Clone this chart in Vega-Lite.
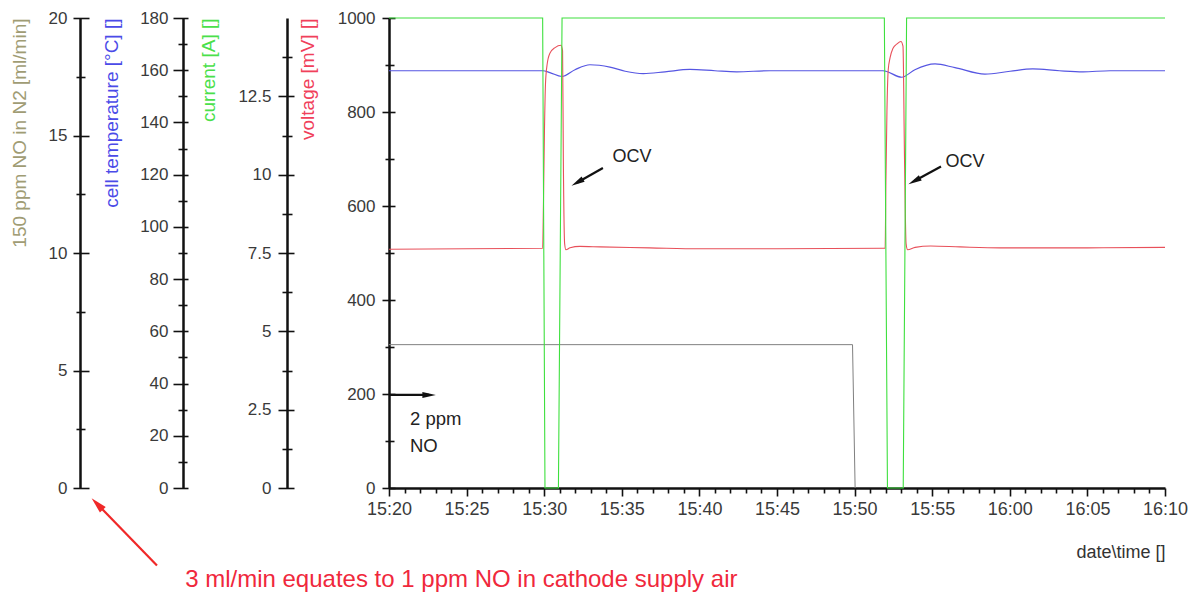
{
  "$schema": "https://vega.github.io/schema/vega-lite/v6.json",
  "width": 776,
  "height": 470,
  "autosize": "none",
  "padding": {"left": 389, "top": 18, "right": 32, "bottom": 113},
  "background": "white",
  "config": {
    "view": {"stroke": null},
    "axis": {
      "grid": false,
      "labelFont": "Liberation Sans",
      "titleFont": "Liberation Sans",
      "labelFontSize": 17,
      "titleFontSize": 19,
      "titleFontWeight": "normal",
      "labelColor": "#3a3a3a",
      "domainColor": "#111111",
      "tickColor": "#111111",
      "domainWidth": 2.5,
      "tickWidth": 1.6
    },
    "text": {"font": "Liberation Sans"}
  },
  "datasets": {
    "voltage": [
      {"t": "2012-06-01T15:20:00", "mV": 508},
      {"t": "2012-06-01T15:25:00", "mV": 509},
      {"t": "2012-06-01T15:29:54", "mV": 510},
      {"t": "2012-06-01T15:29:57", "mV": 600},
      {"t": "2012-06-01T15:30:01", "mV": 760},
      {"t": "2012-06-01T15:30:05", "mV": 860},
      {"t": "2012-06-01T15:30:11", "mV": 900},
      {"t": "2012-06-01T15:30:22", "mV": 925},
      {"t": "2012-06-01T15:30:42", "mV": 937},
      {"t": "2012-06-01T15:31:05", "mV": 942},
      {"t": "2012-06-01T15:31:11", "mV": 930},
      {"t": "2012-06-01T15:31:14", "mV": 700},
      {"t": "2012-06-01T15:31:19", "mV": 520},
      {"t": "2012-06-01T15:31:24", "mV": 507},
      {"t": "2012-06-01T15:31:40", "mV": 511},
      {"t": "2012-06-01T15:32:18", "mV": 514},
      {"t": "2012-06-01T15:33:36", "mV": 513},
      {"t": "2012-06-01T15:36:48", "mV": 511},
      {"t": "2012-06-01T15:40:00", "mV": 509},
      {"t": "2012-06-01T15:45:00", "mV": 509},
      {"t": "2012-06-01T15:51:54", "mV": 510},
      {"t": "2012-06-01T15:51:58", "mV": 510},
      {"t": "2012-06-01T15:52:01", "mV": 650},
      {"t": "2012-06-01T15:52:05", "mV": 800},
      {"t": "2012-06-01T15:52:10", "mV": 890},
      {"t": "2012-06-01T15:52:17", "mV": 915},
      {"t": "2012-06-01T15:52:28", "mV": 935},
      {"t": "2012-06-01T15:52:44", "mV": 945},
      {"t": "2012-06-01T15:52:59", "mV": 950},
      {"t": "2012-06-01T15:53:07", "mV": 940},
      {"t": "2012-06-01T15:53:13", "mV": 700},
      {"t": "2012-06-01T15:53:19", "mV": 520},
      {"t": "2012-06-01T15:53:25", "mV": 507},
      {"t": "2012-06-01T15:53:54", "mV": 512},
      {"t": "2012-06-01T15:54:54", "mV": 515},
      {"t": "2012-06-01T15:56:48", "mV": 513},
      {"t": "2012-06-01T15:59:24", "mV": 511},
      {"t": "2012-06-01T16:05:00", "mV": 511},
      {"t": "2012-06-01T16:10:00", "mV": 512}
    ],
    "current": [
      {"t": "2012-06-01T15:20:00", "A": 15},
      {"t": "2012-06-01T15:29:54", "A": 15},
      {"t": "2012-06-01T15:30:03", "A": 0},
      {"t": "2012-06-01T15:30:55", "A": 0},
      {"t": "2012-06-01T15:31:09", "A": 15},
      {"t": "2012-06-01T15:51:55", "A": 15},
      {"t": "2012-06-01T15:52:07", "A": 0},
      {"t": "2012-06-01T15:53:08", "A": 0},
      {"t": "2012-06-01T15:53:21", "A": 15},
      {"t": "2012-06-01T16:10:00", "A": 15}
    ],
    "temperature": [
      {"t": "2012-06-01T15:20:00", "degC": 159.8},
      {"t": "2012-06-01T15:29:55", "degC": 159.8},
      {"t": "2012-06-01T15:30:22", "degC": 159.1},
      {"t": "2012-06-01T15:31:08", "degC": 157.6},
      {"t": "2012-06-01T15:31:59", "degC": 160.2},
      {"t": "2012-06-01T15:32:57", "degC": 162.1},
      {"t": "2012-06-01T15:34:14", "degC": 161.2},
      {"t": "2012-06-01T15:35:13", "degC": 159.6},
      {"t": "2012-06-01T15:36:23", "degC": 158.7},
      {"t": "2012-06-01T15:37:47", "degC": 159.4},
      {"t": "2012-06-01T15:39:23", "degC": 160.3},
      {"t": "2012-06-01T15:41:00", "degC": 159.8},
      {"t": "2012-06-01T15:42:24", "degC": 159.4},
      {"t": "2012-06-01T15:44:33", "degC": 159.8},
      {"t": "2012-06-01T15:51:50", "degC": 159.8},
      {"t": "2012-06-01T15:52:01", "degC": 159.6},
      {"t": "2012-06-01T15:53:02", "degC": 157.3},
      {"t": "2012-06-01T15:53:53", "degC": 160.2},
      {"t": "2012-06-01T15:55:11", "degC": 162.4},
      {"t": "2012-06-01T15:56:28", "degC": 161.0},
      {"t": "2012-06-01T15:58:24", "degC": 158.5},
      {"t": "2012-06-01T16:00:01", "degC": 159.6},
      {"t": "2012-06-01T16:01:29", "degC": 160.5},
      {"t": "2012-06-01T16:03:12", "degC": 159.8},
      {"t": "2012-06-01T16:04:43", "degC": 159.4},
      {"t": "2012-06-01T16:06:28", "degC": 159.8},
      {"t": "2012-06-01T16:10:00", "degC": 159.8}
    ],
    "noflow": [
      {"t": "2012-06-01T15:20:00", "mlmin": 6.1},
      {"t": "2012-06-01T15:49:52", "mlmin": 6.1},
      {"t": "2012-06-01T15:50:02", "mlmin": 0}
    ],
    "notes": [
      {"t": "2012-06-01T15:35:39", "mV": 705, "label": "OCV"},
      {"t": "2012-06-01T15:57:07", "mV": 694, "label": "OCV"}
    ],
    "nonote": [
      {"t": "2012-06-01T15:21:21", "mV": 147, "label": "2 ppm"},
      {"t": "2012-06-01T15:21:21", "mV": 90, "label": "NO"}
    ],
    "remark": [
      {"t": "2012-06-01T15:06:52", "mV": -195, "label": "3 ml/min equates to 1 ppm NO in cathode supply air"}
    ],
    "arrows": [
      {"arrow": "ocv1", "t": "2012-06-01T15:33:47", "mV": 681},
      {"arrow": "ocv1", "t": "2012-06-01T15:32:08", "mV": 650},
      {"arrow": "ocv2", "t": "2012-06-01T15:55:34", "mV": 684},
      {"arrow": "ocv2", "t": "2012-06-01T15:53:51", "mV": 653},
      {"arrow": "no", "t": "2012-06-01T15:20:00", "mV": 198},
      {"arrow": "no", "t": "2012-06-01T15:22:35", "mV": 198}
    ],
    "heads": [
      {"t": "2012-06-01T15:32:08", "mV": 650, "angle": 150},
      {"t": "2012-06-01T15:53:51", "mV": 653, "angle": 152},
      {"t": "2012-06-01T15:22:35", "mV": 198, "angle": 0}
    ],
    "redarrow": [
      {"t": "2012-06-01T15:05:03", "mV": -165},
      {"t": "2012-06-01T15:01:12", "mV": -34}
    ],
    "redhead": [
      {"t": "2012-06-01T15:01:12", "mV": -34, "angle": 226}
    ]
  },
  "encoding": {
    "x": {
      "field": "t", "type": "temporal",
      "scale": {"domain": [{"year": 2012, "month": 6, "date": 1, "hours": 15, "minutes": 20}, {"year": 2012, "month": 6, "date": 1, "hours": 16, "minutes": 10}], "nice": false},
      "axis": {
        "orient": "bottom",
        "values": [
          {"year": 2012, "month": 6, "date": 1, "hours": 15, "minutes": 20},
          {"year": 2012, "month": 6, "date": 1, "hours": 15, "minutes": 21},
          {"year": 2012, "month": 6, "date": 1, "hours": 15, "minutes": 22},
          {"year": 2012, "month": 6, "date": 1, "hours": 15, "minutes": 23},
          {"year": 2012, "month": 6, "date": 1, "hours": 15, "minutes": 24},
          {"year": 2012, "month": 6, "date": 1, "hours": 15, "minutes": 25},
          {"year": 2012, "month": 6, "date": 1, "hours": 15, "minutes": 26},
          {"year": 2012, "month": 6, "date": 1, "hours": 15, "minutes": 27},
          {"year": 2012, "month": 6, "date": 1, "hours": 15, "minutes": 28},
          {"year": 2012, "month": 6, "date": 1, "hours": 15, "minutes": 29},
          {"year": 2012, "month": 6, "date": 1, "hours": 15, "minutes": 30},
          {"year": 2012, "month": 6, "date": 1, "hours": 15, "minutes": 31},
          {"year": 2012, "month": 6, "date": 1, "hours": 15, "minutes": 32},
          {"year": 2012, "month": 6, "date": 1, "hours": 15, "minutes": 33},
          {"year": 2012, "month": 6, "date": 1, "hours": 15, "minutes": 34},
          {"year": 2012, "month": 6, "date": 1, "hours": 15, "minutes": 35},
          {"year": 2012, "month": 6, "date": 1, "hours": 15, "minutes": 36},
          {"year": 2012, "month": 6, "date": 1, "hours": 15, "minutes": 37},
          {"year": 2012, "month": 6, "date": 1, "hours": 15, "minutes": 38},
          {"year": 2012, "month": 6, "date": 1, "hours": 15, "minutes": 39},
          {"year": 2012, "month": 6, "date": 1, "hours": 15, "minutes": 40},
          {"year": 2012, "month": 6, "date": 1, "hours": 15, "minutes": 41},
          {"year": 2012, "month": 6, "date": 1, "hours": 15, "minutes": 42},
          {"year": 2012, "month": 6, "date": 1, "hours": 15, "minutes": 43},
          {"year": 2012, "month": 6, "date": 1, "hours": 15, "minutes": 44},
          {"year": 2012, "month": 6, "date": 1, "hours": 15, "minutes": 45},
          {"year": 2012, "month": 6, "date": 1, "hours": 15, "minutes": 46},
          {"year": 2012, "month": 6, "date": 1, "hours": 15, "minutes": 47},
          {"year": 2012, "month": 6, "date": 1, "hours": 15, "minutes": 48},
          {"year": 2012, "month": 6, "date": 1, "hours": 15, "minutes": 49},
          {"year": 2012, "month": 6, "date": 1, "hours": 15, "minutes": 50},
          {"year": 2012, "month": 6, "date": 1, "hours": 15, "minutes": 51},
          {"year": 2012, "month": 6, "date": 1, "hours": 15, "minutes": 52},
          {"year": 2012, "month": 6, "date": 1, "hours": 15, "minutes": 53},
          {"year": 2012, "month": 6, "date": 1, "hours": 15, "minutes": 54},
          {"year": 2012, "month": 6, "date": 1, "hours": 15, "minutes": 55},
          {"year": 2012, "month": 6, "date": 1, "hours": 15, "minutes": 56},
          {"year": 2012, "month": 6, "date": 1, "hours": 15, "minutes": 57},
          {"year": 2012, "month": 6, "date": 1, "hours": 15, "minutes": 58},
          {"year": 2012, "month": 6, "date": 1, "hours": 15, "minutes": 59},
          {"year": 2012, "month": 6, "date": 1, "hours": 16, "minutes": 0},
          {"year": 2012, "month": 6, "date": 1, "hours": 16, "minutes": 1},
          {"year": 2012, "month": 6, "date": 1, "hours": 16, "minutes": 2},
          {"year": 2012, "month": 6, "date": 1, "hours": 16, "minutes": 3},
          {"year": 2012, "month": 6, "date": 1, "hours": 16, "minutes": 4},
          {"year": 2012, "month": 6, "date": 1, "hours": 16, "minutes": 5},
          {"year": 2012, "month": 6, "date": 1, "hours": 16, "minutes": 6},
          {"year": 2012, "month": 6, "date": 1, "hours": 16, "minutes": 7},
          {"year": 2012, "month": 6, "date": 1, "hours": 16, "minutes": 8},
          {"year": 2012, "month": 6, "date": 1, "hours": 16, "minutes": 9},
          {"year": 2012, "month": 6, "date": 1, "hours": 16, "minutes": 10}
        ],
        "labelExpr": "minutes(datum.value) % 5 === 0 ? timeFormat(datum.value, '%H:%M') : ''",
        "tickSize": {"condition": {"test": "minutes(datum.value) % 5 === 0", "value": 8}, "value": 5},
        "labelOverlap": false, "labelFlush": false, "labelPadding": 4, "labelFontSize": 18,
        "title": "date\\time []", "titleColor": "#333333", "titleFontSize": 18, "titleAlign": "right", "titleBaseline": "middle", "titleX": 776, "titleY": 64
      }
    }
  },
  "resolve": {
    "scale": {"y": "independent"},
    "axis": {"y": "independent"}
  },
  "layer": [
    {
      "data": {"name": "noflow"},
      "mark": {"type": "line", "color": "#808080", "strokeWidth": 1},
      "encoding": {
        "y": {"field": "mlmin", "type": "quantitative", "scale": {"domain": [0, 20], "nice": false},
          "axis": {"orient": "left", "offset": 309, "values": [0, 5, 10, 15, 20], "format": "d", "ticks": false, "labelPadding": 13,
            "title": "150 ppm NO in N2 [ml/min]", "titleColor": "#a09c74", "titleAngle": 270, "titleAlign": "right", "titleBaseline": "middle", "titleX": -61, "titleY": 0}}
      }
    },
    {
      "data": {"name": "noflow"},
      "mark": {"type": "point", "opacity": 0},
      "encoding": {
        "y": {"field": "mlmin", "type": "quantitative", "scale": {"domain": [0, 20], "nice": false},
          "axis": {"orient": "left", "offset": 300, "values": [0, 5, 10, 15, 20], "labels": false, "domain": false, "title": null, "tickSize": 16}}
      }
    },
    {
      "data": {"name": "noflow"},
      "mark": {"type": "point", "opacity": 0},
      "encoding": {
        "y": {"field": "mlmin", "type": "quantitative", "scale": {"domain": [0, 20], "nice": false},
          "axis": {"orient": "left", "offset": 304, "values": [2.5, 7.5, 12.5, 17.5], "labels": false, "domain": false, "title": null, "tickSize": 9}}
      }
    },
    {
      "data": {"name": "temperature"},
      "mark": {"type": "line", "color": "#5656e2", "strokeWidth": 1.2, "interpolate": "monotone"},
      "encoding": {
        "y": {"field": "degC", "type": "quantitative", "scale": {"domain": [0, 180], "nice": false},
          "axis": {"orient": "left", "offset": 206, "values": [0, 20, 40, 60, 80, 100, 120, 140, 160, 180], "format": "d", "ticks": false, "labelPadding": 15,
            "title": "cell temperature [°C] []", "titleColor": "#4b4be8", "titleAngle": 270, "titleAlign": "right", "titleBaseline": "middle", "titleX": -72, "titleY": 0}}
      }
    },
    {
      "data": {"name": "temperature"},
      "mark": {"type": "point", "opacity": 0},
      "encoding": {
        "y": {"field": "degC", "type": "quantitative", "scale": {"domain": [0, 180], "nice": false},
          "axis": {"orient": "left", "offset": 201, "values": [0, 20, 40, 60, 80, 100, 120, 140, 160, 180], "labels": false, "domain": false, "title": null, "tickSize": 15}}
      }
    },
    {
      "data": {"name": "temperature"},
      "mark": {"type": "point", "opacity": 0},
      "encoding": {
        "y": {"field": "degC", "type": "quantitative", "scale": {"domain": [0, 180], "nice": false},
          "axis": {"orient": "left", "offset": 202, "values": [10, 30, 50, 70, 90, 110, 130, 150, 170], "labels": false, "domain": false, "title": null, "tickSize": 9}}
      }
    },
    {
      "data": {"name": "current"},
      "mark": {"type": "point", "opacity": 0},
      "encoding": {
        "y": {"field": "A", "type": "quantitative", "scale": {"domain": [0, 15], "nice": false},
          "axis": {"orient": "left", "offset": 95, "values": [0, 2.5, 5, 7.5, 10, 12.5], "labels": false, "domain": false, "title": null, "tickSize": 16}}
      }
    },
    {
      "data": {"name": "current"},
      "mark": {"type": "point", "opacity": 0},
      "encoding": {
        "y": {"field": "A", "type": "quantitative", "scale": {"domain": [0, 15], "nice": false},
          "axis": {"orient": "left", "offset": 97, "values": [1.25, 3.75, 6.25, 8.75, 11.25, 13.75], "labels": false, "domain": false, "title": null, "tickSize": 10}}
      }
    },
    {
      "data": {"name": "voltage"},
      "mark": {"type": "line", "color": "#e8505a", "strokeWidth": 1.1, "interpolate": "monotone"},
      "encoding": {
        "y": {"field": "mV", "type": "quantitative", "scale": {"domain": [0, 1000], "nice": false},
          "axis": {"orient": "left", "offset": 0, "values": [0, 200, 400, 600, 800, 1000], "format": "d", "ticks": false, "labelPadding": 14,
            "title": "voltage [mV] []", "titleColor": "#f0405a", "titleAngle": 270, "titleAlign": "right", "titleBaseline": "middle", "titleX": -82, "titleY": 0}}
      }
    },
    {
      "data": {"name": "voltage"},
      "mark": {"type": "point", "opacity": 0},
      "encoding": {
        "y": {"field": "mV", "type": "quantitative", "scale": {"domain": [0, 1000], "nice": false},
          "axis": {"orient": "left", "offset": -6, "values": [0, 200, 400, 600, 800, 1000], "labels": false, "domain": false, "title": null, "tickSize": 13}}
      }
    },
    {
      "data": {"name": "voltage"},
      "mark": {"type": "point", "opacity": 0},
      "encoding": {
        "y": {"field": "mV", "type": "quantitative", "scale": {"domain": [0, 1000], "nice": false},
          "axis": {"orient": "left", "offset": -5, "values": [100, 300, 500, 700, 900], "labels": false, "domain": false, "title": null, "tickSize": 9}}
      }
    },
    {
      "data": {"name": "current"},
      "mark": {"type": "line", "color": "#3ee03e", "strokeWidth": 1.1},
      "encoding": {
        "y": {"field": "A", "type": "quantitative", "scale": {"domain": [0, 15], "nice": false},
          "axis": {"orient": "left", "offset": 102, "values": [0, 2.5, 5, 7.5, 10, 12.5], "format": ".1~f", "ticks": false, "labelPadding": 16,
            "title": "current [A] []", "titleColor": "#4ae04a", "titleAngle": 270, "titleAlign": "right", "titleBaseline": "middle", "titleX": -79, "titleY": 0}}
      }
    },
    {
      "data": {"name": "arrows"},
      "mark": {"type": "line", "color": "#111111", "strokeWidth": 2.2},
      "encoding": {
        "y": {"field": "mV", "type": "quantitative", "scale": {"domain": [0, 1000], "nice": false}, "axis": null},
        "detail": {"field": "arrow"}
      }
    },
    {
      "data": {"name": "heads"},
      "mark": {"type": "point", "shape": "M-1,-0.45L1,0L-1,0.45Z", "filled": true, "color": "#111111", "opacity": 1, "size": 180},
      "encoding": {
        "y": {"field": "mV", "type": "quantitative", "scale": {"domain": [0, 1000], "nice": false}, "axis": null},
        "angle": {"field": "angle", "type": "quantitative", "scale": null}
      }
    },
    {
      "data": {"name": "redarrow"},
      "mark": {"type": "line", "color": "#f02828", "strokeWidth": 2.2},
      "encoding": {
        "y": {"field": "mV", "type": "quantitative", "scale": {"domain": [0, 1000], "nice": false}, "axis": null}
      }
    },
    {
      "data": {"name": "redhead"},
      "mark": {"type": "point", "shape": "M-1,-0.5L1,0L-1,0.5Z", "filled": true, "color": "#f02828", "opacity": 1, "size": 260},
      "encoding": {
        "y": {"field": "mV", "type": "quantitative", "scale": {"domain": [0, 1000], "nice": false}, "axis": null},
        "angle": {"field": "angle", "type": "quantitative", "scale": null}
      }
    },
    {
      "data": {"name": "notes"},
      "mark": {"type": "text", "fontSize": 18, "color": "#222222", "align": "center", "baseline": "middle"},
      "encoding": {
        "y": {"field": "mV", "type": "quantitative", "scale": {"domain": [0, 1000], "nice": false}, "axis": null},
        "text": {"field": "label"}
      }
    },
    {
      "data": {"name": "nonote"},
      "mark": {"type": "text", "fontSize": 18.5, "color": "#222222", "align": "left", "baseline": "middle"},
      "encoding": {
        "y": {"field": "mV", "type": "quantitative", "scale": {"domain": [0, 1000], "nice": false}, "axis": null},
        "text": {"field": "label"}
      }
    },
    {
      "data": {"name": "remark"},
      "mark": {"type": "text", "fontSize": 24, "color": "#f0283c", "align": "left", "baseline": "middle"},
      "encoding": {
        "y": {"field": "mV", "type": "quantitative", "scale": {"domain": [0, 1000], "nice": false}, "axis": null},
        "text": {"field": "label"}
      }
    }
  ]
}
